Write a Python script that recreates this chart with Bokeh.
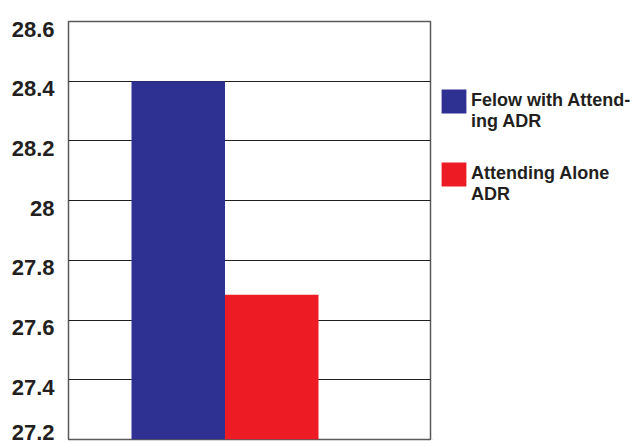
from bokeh.plotting import figure
from bokeh.layouts import row
from bokeh.models import (Range1d, FixedTicker, Legend, LegendItem, Label,
                          ColumnDataSource)
from bokeh.embed import file_html
from bokeh.resources import INLINE

# ---- data ----
groups = ["Felow with Attending ADR", "Attending Alone ADR"]
legend_labels = ["Felow with Attend-\ning ADR", "Attending Alone\nADR"]
values = [28.40, 27.685]
colors = ["#2E3192", "#ED1C24"]
y_ticks = [27.2, 27.4, 27.6, 27.8, 28.0, 28.2, 28.4, 28.6]
y_tick_labels = ["27.2", "27.4", "27.6", "27.8", "28", "28.2", "28.4", "28.6"]
title_text = "group)"   # only the bottom of this cut-off heading is visible

xs = [i + 0.5 for i in range(len(groups))]
src = ColumnDataSource(dict(x=xs, top=values, color=colors, name=groups))

# ---- main chart ----
p = figure(width=432, height=444, output_backend="svg", toolbar_location=None,
           x_range=Range1d(-0.674, 3.198), y_range=Range1d(y_ticks[0], y_ticks[-1]),
           min_border_left=68, min_border_right=2, min_border_top=21,
           min_border_bottom=5, background_fill_color="white",
           border_fill_color="white")

r = p.vbar(x="x", top="top", bottom=y_ticks[0], width=1.0, color="color",
           line_color=None, source=src)

p.xgrid.visible = False
p.ygrid.ticker = FixedTicker(ticks=y_ticks)
p.ygrid.grid_line_color = "#231F20"
p.ygrid.grid_line_width = 1.2

p.xaxis.visible = False
ya = p.yaxis[0]
ya.ticker = FixedTicker(ticks=y_ticks)
# labels sit a little below their grid lines, as in the reference
ya.major_label_overrides = {t: "\n" + lab for t, lab in zip(y_ticks, y_tick_labels)}
ya.major_label_text_line_height = 0.6
ya.axis_line_color = None
ya.major_tick_line_color = None
ya.minor_tick_line_color = None
ya.major_label_standoff = 8
ya.major_label_text_font = "Liberation Sans"
ya.major_label_text_font_style = "bold"
ya.major_label_text_font_size = "22px"
ya.major_label_text_color = "#231F20"

p.outline_line_color = "#5a5a5a"
p.outline_line_width = 1.5

# ---- legend panel (right) ----
q = figure(width=201, height=444, output_backend="svg", toolbar_location=None,
           x_range=Range1d(100, 101), y_range=Range1d(100, 101),
           min_border_left=0, min_border_right=0, min_border_top=0,
           min_border_bottom=0, outline_line_color=None,
           background_fill_color="white", border_fill_color="white")
q.title.visible = False
q.title.text_font_size = "0px"
q.title.standoff = 0
q.title.offset = 0
q.axis.visible = False
q.grid.visible = False
# legend proxies: the same bars, lying outside this panel's ranges
rq = q.vbar(x="x", top="top", bottom=y_ticks[0], width=1.0, color="color",
            line_color=None, source=src)

items = [LegendItem(label="\n" + legend_labels[i], renderers=[rq], index=i)
         for i in range(len(groups))]
legend = Legend(items=items, location=(6, 234), glyph_width=31, glyph_height=30,
                label_text_font="Liberation Sans", label_text_font_style="bold",
                label_text_font_size="18px", label_text_color="#231F20",
                label_standoff=2, spacing=10,
                padding=0, margin=0, border_line_color=None,
                background_fill_alpha=0)
q.add_layout(legend, "center")

# heading cut off by the top edge: only its descenders show
heading = Label(x=6, y=443, x_units="screen", y_units="screen", text=title_text,
                text_align="left", text_baseline="alphabetic",
                text_font="Liberation Serif", text_font_size="40px",
                text_color="#231F20")
q.add_layout(heading)

layout = row(p, q)
open("out.html", "w").write(file_html(layout, INLINE))
